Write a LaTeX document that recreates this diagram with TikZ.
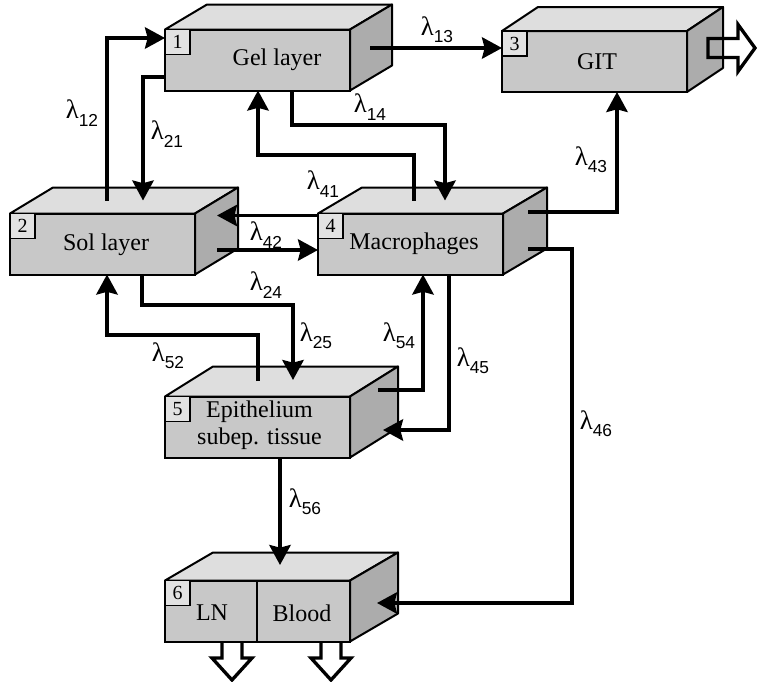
\documentclass[tikz,border=0pt]{standalone}
\usepackage{fontspec}
\setmainfont{Liberation Serif}
\setsansfont{Liberation Sans}
\usetikzlibrary{calc,arrows.meta}
\definecolor{frontgray}{RGB}{200,200,200}
\definecolor{topgray}{RGB}{222,222,222}
\definecolor{sidegray}{RGB}{172,172,172}
\definecolor{numgray}{RGB}{226,226,226}
\tikzset{
 face/.style={draw, line width=1.5pt, fill=frontgray, minimum width=138.75pt, minimum height=45.75pt, inner sep=0pt, outer sep=0pt},
 topface/.style={draw, line width=1.5pt, fill=topgray, line join=round},
 sideface/.style={draw, line width=1.5pt, fill=sidegray, line join=round},
 numbox/.style={draw, line width=1.2pt, fill=numgray, minimum size=18.75pt, inner sep=0pt, outer sep=0pt, anchor=north west, font=\fontsize{15pt}{15pt}\selectfont},
 boxtext/.style={font=\fontsize{18pt}{20pt}\selectfont, align=center, inner sep=0pt},
 conn/.style={line width=2.6pt, -{Stealth[length=15pt,width=16pt,inset=2pt]}},
 lam/.style={font=\fontsize{20pt}{20pt}\selectfont, inner sep=0pt},
 hollow/.style={draw, line width=2.5pt, line join=miter}
}
\newcommand\lamlab[1]{λ\raisebox{-5.5pt}{\fontsize{13pt}{13pt}\sffamily #1}}
\newcommand\cubebox[5]{%
 \node[face] (#1) at (#2) {};
 \draw[topface] (#1.north west) -- ++(#3,-#4) -- ($(#1.north east)+(#3,-#4)$) -- (#1.north east) -- cycle;
 \draw[sideface] (#1.north east) -- ++(#3,-#4) -- ($(#1.south east)+(#3,-#4)$) -- (#1.south east) -- cycle;
 \node[numbox] (#1n) at (#1.north west) {#5};
}
\begin{document}
\begin{tikzpicture}[x=0.75pt,y=-0.75pt]
\path[fill=white] (0,0) rectangle (757,682);
\useasboundingbox (0,0) rectangle (757,682);

% boxes
\cubebox{b1}{257.5,60}{42}{25}{1}
\cubebox{b3}{594.5,61.5}{36}{24}{3}
\cubebox{b2}{102.5,244}{43}{26}{2}
\cubebox{b4}{410.5,244}{44}{26}{4}
\cubebox{b5}{257.5,427}{48}{30}{5}
\cubebox{b6}{257.5,611}{48}{28}{6}
\draw[line width=1.5pt] ($(b6.north west)+(92,0)$) -- ($(b6.south west)+(92,0)$);

% box texts
\node[boxtext] (b1t) at (277,60) {Gel layer};
\node[boxtext] (b3t) at (597,61.5) {GIT};
\node[boxtext] (b2t) at (106,245) {Sol layer};
\node[boxtext] (b4t) at (414,244) {Macrophages};
\node[boxtext] (b5t) at (259.5,425) {Epithelium\\subep. tissue};
\node[boxtext] (b6a) at (212,613) {LN};
\node[boxtext] (b6b) at (302,613) {Blood};

% connectors
\draw[conn] ($(b2.north west)+(97,-13)$) |- ($(b1.north west)+(0,8.5)$);
\draw[conn] ($(b1.south west)+(0,-13.5)$) -| ($(b2.north west)+(133,-13)$);
\draw[conn] ($(b1.north east)+(20,18.5)$) -- ($(b3.north west)+(0,17)$);
\draw[conn] ($(b1.south west)+(127,0)$) -- ++(0,34.5) -| ($(b4.north west)+(127,-13)$);
\draw[conn] ($(b4.north west)+(96,-13)$) -- ++(0,-45.5) -| ($(b1.south west)+(93,0)$);
\draw[conn] ($(b4.north east)+(25,-1.5)$) -| ($(b3.south west)+(115,0)$);
\draw[conn] ($(b4.north west)+(0,2)$) -- ($(b2.north east)+(22,2)$);
\draw[conn] ($(b2.north east)+(22,36.5)$) -- ($(b4.north west)+(0,36.5)$);
\draw[conn] ($(b5.north west)+(93,-15.5)$) -- ++(0,-46) -| ($(b2.south west)+(97,0)$);
\draw[conn] ($(b2.south west)+(132,0)$) -- ++(0,30.5) -| ($(b5.north west)+(128,-16.5)$);
\draw[conn] ($(b5.north east)+(28,-6.5)$) -| ($(b4.south west)+(105,0)$);
\draw[conn] ($(b4.south west)+(131,0)$) |- ($(b5.north east)+(33,33.5)$);
\draw[conn] ($(b4.north east)+(25,35.5)$) -- ++(44,0) |- ($(b6.north east)+(27,22.5)$);
\draw[conn] ($(b5.south west)+(115,0)$) -- ($(b6.north west)+(115,-15.5)$);

% outflow arrows
\draw[hollow] ($(b3.north east)+(21,7.5)$) -- ++(30,0) -- ++(0,-14) -- ++(17,23.5) -- ++(-17,23.5) -- ++(0,-14) -- ++(-30,0) -- cycle;
\draw[hollow] ($(b6.south west)+(57,0)$) -- ++(0,16.5) -- ++(-10,0) -- ++(20,22) -- ++(20,-22) -- ++(-10,0) -- ++(0,-16.5);
\draw[hollow] ($(b6.south west)+(156,0)$) -- ++(0,16.5) -- ++(-10,0) -- ++(20,22) -- ++(20,-22) -- ++(-10,0) -- ++(0,-16.5);

% labels
\node[lam] (l12) at (82,113) {\lamlab{12}};
\node[lam] (l21) at (167,134) {\lamlab{21}};
\node[lam] (l13) at (437,30) {\lamlab{13}};
\node[lam] (l14) at (370,107) {\lamlab{14}};
\node[lam] (l41) at (323,184) {\lamlab{41}};
\node[lam] (l43) at (591,160) {\lamlab{43}};
\node[lam] (l42) at (266,235) {\lamlab{42}};
\node[lam] (l24) at (266,285) {\lamlab{24}};
\node[lam] (l52) at (168,356) {\lamlab{52}};
\node[lam] (l25) at (316,336) {\lamlab{25}};
\node[lam] (l54) at (399,336) {\lamlab{54}};
\node[lam] (l45) at (473,361) {\lamlab{45}};
\node[lam] (l46) at (596,424) {\lamlab{46}};
\node[lam] (l56) at (305,502) {\lamlab{56}};
\end{tikzpicture}
\end{document}
